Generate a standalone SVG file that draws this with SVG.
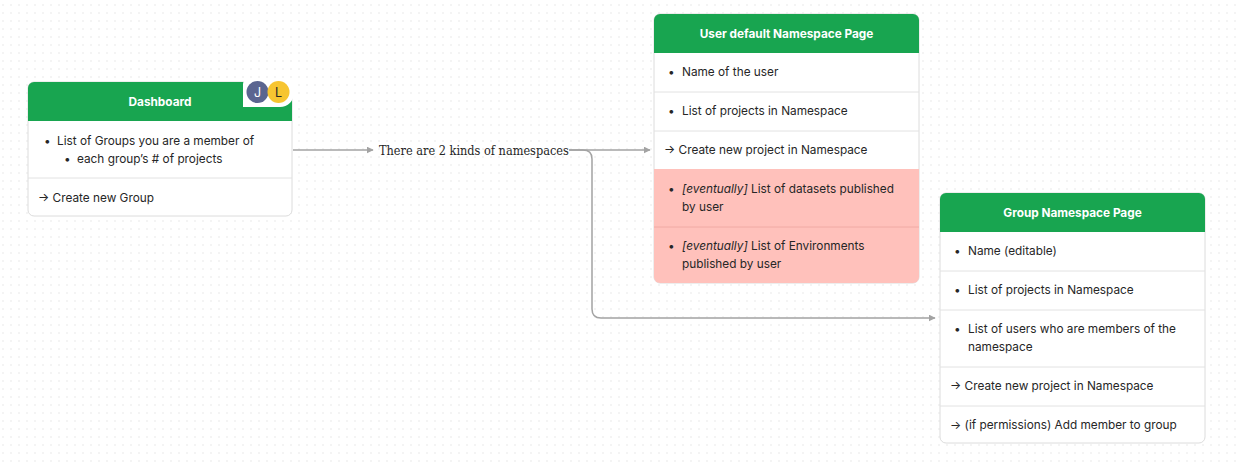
<svg xmlns="http://www.w3.org/2000/svg" width="1238" height="466" viewBox="0 0 1238 466">
<defs>
<pattern id="grid" x="0" y="0" width="8" height="8" patternUnits="userSpaceOnUse">
<rect x="2.5" y="4.5" width="1" height="1" fill="#d4d4d4"/>
</pattern>
<marker id="arr" viewBox="0 0 10 10" refX="9" refY="5" markerWidth="7" markerHeight="7" markerUnits="userSpaceOnUse" orient="auto">
<path d="M0,0 L10,5 L0,10 z" fill="#a3a3a3"/>
</marker>
<clipPath id="c1"><rect x="28" y="82" width="264" height="134" rx="6"/></clipPath>
<clipPath id="c2"><rect x="654" y="14" width="265" height="269" rx="6"/></clipPath>
<clipPath id="c3"><rect x="940" y="193" width="265" height="250" rx="6"/></clipPath>
</defs>
<style>
.t{font-family:Inter,"Noto Sans","Liberation Sans",sans-serif;font-size:11.8px;fill:#262626}
.h{font-family:Inter,"Noto Sans","Liberation Sans",sans-serif;font-size:11.8px;font-weight:700;fill:#ffffff}
.hd{fill:#18a550}
.card{fill:#ffffff;stroke:#dcdcdc;stroke-width:1}
.sep{stroke:#e2e2e2;stroke-width:1}
.pink{fill:#ffc1bb}
.con{fill:none;stroke:#a3a3a3;stroke-width:1.5}
.lbl{font-family:"DejaVu Serif","Liberation Serif",serif;font-stretch:condensed;font-size:12.6px;fill:#262626}
</style>
<rect width="1238" height="466" fill="#ffffff"/>
<rect width="1238" height="466" fill="url(#grid)"/>

<g id="connectors">
<line class="con" x1="293" y1="150" x2="373" y2="150" marker-end="url(#arr)"/>
<line class="con" x1="569" y1="150" x2="650" y2="150" marker-end="url(#arr)"/>
<path class="con" d="M569,150 L583,150 Q592,150 592,159 L592,309 Q592,318 601,318 L935,318" marker-end="url(#arr)"/>
<text class="lbl" x="379" y="154.5">There are 2 kinds of namespaces</text>
</g>

<g id="dashboard">
<rect class="card" x="28" y="82" width="264" height="134" rx="6"/>
<g clip-path="url(#c1)">
<rect class="hd" x="28" y="82" width="264" height="39"/>
</g>
<text class="h" x="160" y="106" text-anchor="middle">Dashboard</text>
<line class="sep" x1="28" y1="178" x2="292" y2="178"/>
<text class="t" x="44" y="145">•</text><text class="t" x="57" y="145">List of Groups you are a member of</text>
<text class="t" x="64" y="163">•</text><text class="t" x="77" y="163">each group’s # of projects</text>
<text class="t" x="38" y="202">→ Create new Group</text>
<g id="avatars">
<path d="M248,79 L282,79 A12,12 0 0 1 294,91 L294,93 A14,14 0 0 1 280,107 L243,107 L243,84 A5,5 0 0 1 248,79 z" fill="#ffffff"/>
<circle cx="257.5" cy="92" r="11" fill="#5b6590"/>
<circle cx="278.5" cy="92" r="11" fill="#f7c531"/>
<text x="257.5" y="96.5" text-anchor="middle" style="font-family:Inter,'Liberation Sans',sans-serif;font-size:12.5px;fill:#ffffff">J</text>
<text x="278.5" y="96.5" text-anchor="middle" style="font-family:Inter,'Liberation Sans',sans-serif;font-size:12.5px;fill:#262626">L</text>
</g>
</g>

<g id="user-namespace">
<rect class="card" x="654" y="14" width="265" height="269" rx="6"/>
<g clip-path="url(#c2)">
<rect class="hd" x="654" y="14" width="265" height="39"/>
<rect class="pink" x="654" y="169" width="265" height="114"/>
</g>
<text class="h" x="786.5" y="38" text-anchor="middle">User default Namespace Page</text>
<line class="sep" x1="654" y1="92" x2="919" y2="92"/>
<line class="sep" x1="654" y1="131" x2="919" y2="131"/>
<line x1="654" y1="227" x2="919" y2="227" stroke="#f0aaa4" stroke-width="1"/>
<text class="t" x="668" y="76">•</text><text class="t" x="682" y="76">Name of the user</text>
<text class="t" x="668" y="115">•</text><text class="t" x="682" y="115">List of projects in Namespace</text>
<text class="t" x="664" y="154">→ Create new project in Namespace</text>
<text class="t" x="668" y="193">•</text><text class="t" x="682" y="193"><tspan font-style="italic">[eventually]</tspan> List of datasets published</text>
<text class="t" x="682" y="211">by user</text>
<text class="t" x="668" y="250">•</text><text class="t" x="682" y="250"><tspan font-style="italic">[eventually]</tspan> List of Environments</text>
<text class="t" x="682" y="268">published by user</text>
</g>

<g id="group-namespace">
<rect class="card" x="940" y="193" width="265" height="250" rx="6"/>
<g clip-path="url(#c3)">
<rect class="hd" x="940" y="193" width="265" height="39"/>
</g>
<text class="h" x="1072.5" y="217" text-anchor="middle">Group Namespace Page</text>
<line class="sep" x1="940" y1="271" x2="1205" y2="271"/>
<line class="sep" x1="940" y1="310" x2="1205" y2="310"/>
<line class="sep" x1="940" y1="367" x2="1205" y2="367"/>
<line class="sep" x1="940" y1="406" x2="1205" y2="406"/>
<text class="t" x="954" y="255">•</text><text class="t" x="968" y="255">Name (editable)</text>
<text class="t" x="954" y="294">•</text><text class="t" x="968" y="294">List of projects in Namespace</text>
<text class="t" x="954" y="333">•</text><text class="t" x="968" y="333">List of users who are members of the</text>
<text class="t" x="968" y="351">namespace</text>
<text class="t" x="950" y="390">→ Create new project in Namespace</text>
<text class="t" x="950" y="429">→ (if permissions) Add member to group</text>
</g>
</svg>
